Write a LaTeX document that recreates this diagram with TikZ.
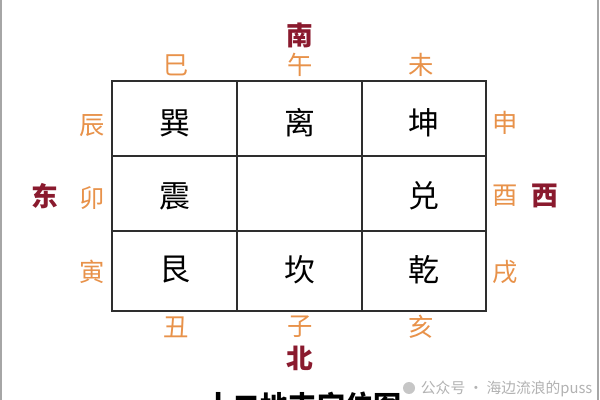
\documentclass[tikz,border=0pt]{standalone}
\usepackage{fontspec}
\setmainfont{Noto Sans CJK SC}
\definecolor{dirred}{HTML}{8A1A2E}
\definecolor{branchorange}{HTML}{E8924A}
\definecolor{gridgray}{HTML}{2E2E2E}
\tikzset{
  trigram/.style = {font=\fontsize{22}{22}\selectfont, text=black},
  branch/.style = {font=\fontsize{18}{18}\selectfont, text=branchorange},
  direction/.style = {font=\bfseries\fontsize{19}{19}\selectfont, text=dirred}
}
\begin{document}
\begin{tikzpicture}[x = 0.025cm, y = -0.025cm]
        \useasboundingbox (0, 0) rectangle (600, 400);
        \clip (0, 0) rectangle (600, 400);
        \fill [white] (0, 0) rectangle (600, 400);
        % frame edges
        \draw [gray!70, line width = 1.2pt] (1, 0) -- (1, 400);
        \draw [gray!70, line width = 1.2pt] (598, 0) -- (598, 400);
        % grid
        \draw [gridgray, line width = 1.3pt] (112, 81) rectangle (486, 311);
        \draw [gridgray, line width = 1.3pt] (237, 81) -- (237, 311);
        \draw [gridgray, line width = 1.3pt] (362, 81) -- (362, 311);
        \draw [gridgray, line width = 1.3pt] (112, 156) -- (486, 156);
        \draw [gridgray, line width = 1.3pt] (112, 231) -- (486, 231);
        % trigrams
        \node [trigram] (xun) at (175, 123) {巽};
        \node [trigram] (li) at (300, 123) {离};
        \node [trigram] (kun) at (424, 123) {坤};
        \node [trigram] (zhen) at (175, 196) {震};
        \node [trigram] (dui) at (424, 196) {兑};
        \node [trigram] (gen) at (175, 270) {艮};
        \node [trigram] (kan) at (300, 270) {坎};
        \node [trigram] (qian) at (424, 270) {乾};
        % earthly branches
        \node [branch] (si) at (176, 65) {巳};
        \node [branch] (wu) at (300, 65) {午};
        \node [branch] (wei) at (421, 65) {未};
        \node [branch] (chen) at (92, 126) {辰};
        \node [branch] (mao) at (92, 198) {卯};
        \node [branch] (yin) at (92, 272) {寅};
        \node [branch] (shen) at (505, 123) {申};
        \node [branch] (you) at (505, 196) {酉};
        \node [branch] (xu) at (505, 272) {戌};
        \node [branch] (chou) at (176, 327) {丑};
        \node [branch] (zi) at (300, 327) {子};
        \node [branch] (hai) at (421, 327) {亥};
        % directions
        \node [direction] (south) at (300, 35) {南};
        \node [direction] (north) at (300, 358) {北};
        \node [direction] (east) at (45, 196) {东};
        \node [direction] (west) at (545, 196) {西};
        % title and watermark
        \node [font=\bfseries\fontsize{20}{20}\selectfont] (title) at (303, 406) {十二地支宫位图};
        \node [font=\fontsize{10.5}{10.5}\selectfont, text=gray!60, anchor=west] (mark) at (416, 389) {公众号 · 海边流浪的puss};
        \fill [gray!45] (409, 388) circle (6);
\end{tikzpicture}
\end{document}
